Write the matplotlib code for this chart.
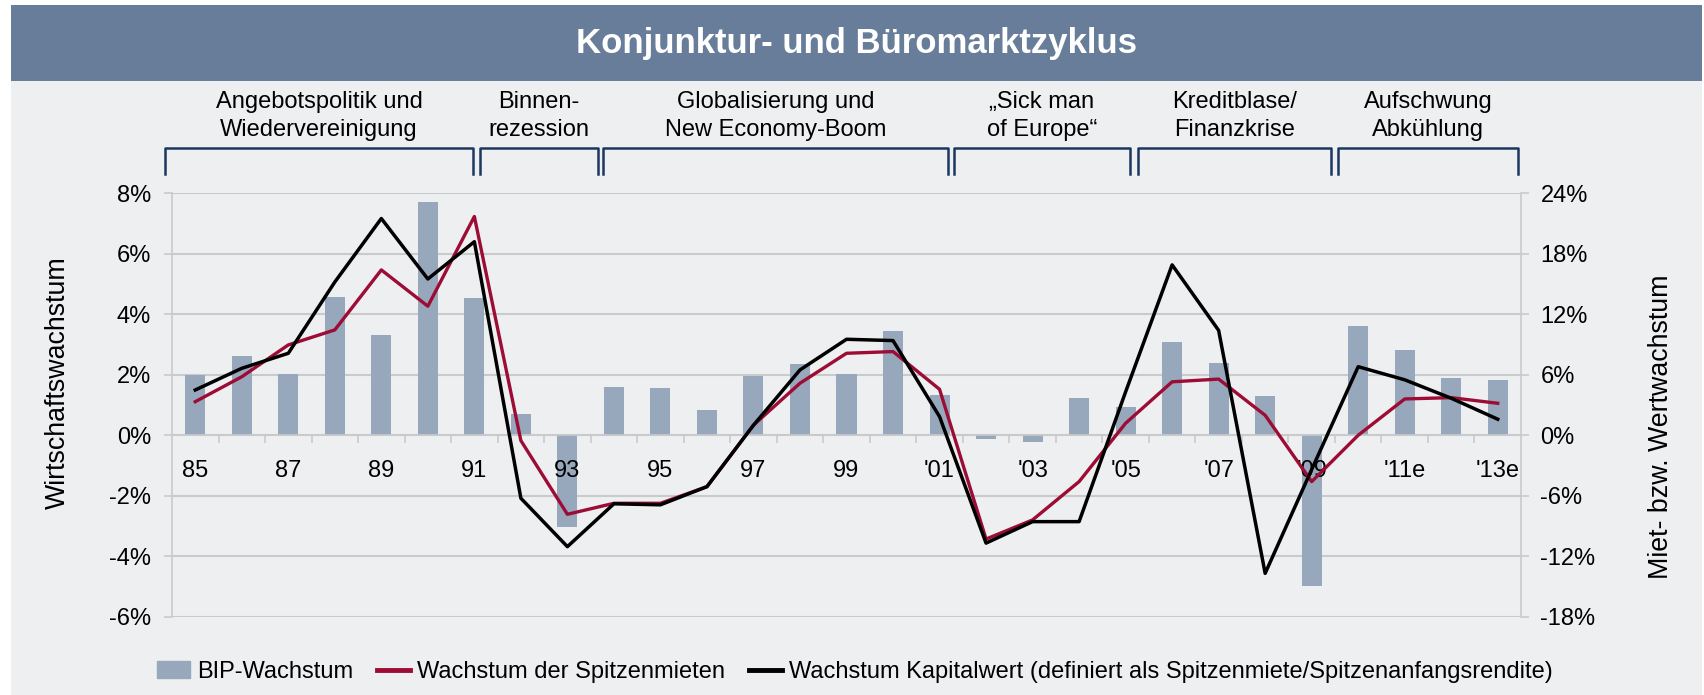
import numpy as np
import matplotlib
matplotlib.use("Agg")
import matplotlib.pyplot as plt
from matplotlib.patches import Rectangle
from matplotlib.lines import Line2D
from matplotlib.ticker import FuncFormatter

plt.rcParams['font.family'] = ['Liberation Sans', 'DejaVu Sans']

# data
years = list(range(1985, 2014))
year_labels = ['85', '87', '89', '91', '93', '95', '97', '99', "'01", "'03",
               "'05", "'07", "'09", "'11e", "'13e"]
gdp = [2.0, 2.62, 2.03, 4.57, 3.32, 7.71, 4.54, 0.70, -3.02, 1.6,
       1.56, 0.84, 1.96, 2.36, 2.03, 3.45, 1.33, -0.11, -0.21, 1.23,
       0.93, 3.07, 2.38, 1.30, -5.0, 3.61, 2.82, 1.89, 1.83]
rent = [3.33, 5.8, 8.96, 10.45, 16.4, 12.8, 21.7, -0.53, -7.84, -6.75,
        -6.75, -5.1, 1.0, 5.16, 8.13, 8.3, 4.56, -10.3, -8.4, -4.6,
        1.19, 5.3, 5.57, 1.98, -4.6, 0.0, 3.6, 3.73, 3.17]
capital = [4.49, 6.64, 8.13, 15.2, 21.5, 15.5, 19.2, -6.25, -11.05, -6.8,
           -6.9, -5.1, 1.0, 6.48, 9.52, 9.39, 1.85, -10.7, -8.57, -8.57,
           4.3, 16.9, 10.4, -13.7, -3.4, 6.8, 5.5, 3.67, 1.59]

phases = ['Angebotspolitik und\nWiedervereinigung', 'Binnen-\nrezession',
          'Globalisierung und\nNew Economy-Boom', '\u201eSick man\nof Europe\u201c',
          'Kreditblase/\nFinanzkrise', 'Aufschwung\nAbk\u00fchlung']
# bracket spans in pixels of the 1704 px wide figure
phase_spans = [(165, 473), (480, 598), (603, 948), (954, 1130), (1138, 1331), (1338, 1518)]

W, H = 1704, 695
bar_col = '#98A8BC'
red = '#9C0C35'
grid_col = '#C9CACC'
panel = '#EEEFF1'
fs = 17

fig = plt.figure(figsize=(W / 100, H / 100), dpi=100, facecolor='white')
fig.patches.append(Rectangle((11 / W, 0), 1691 / W, 1 - 81 / H, transform=fig.transFigure,
                             facecolor=panel, edgecolor='none', zorder=-10))
fig.patches.append(Rectangle((11 / W, 1 - 81 / H), 1691 / W, 76 / H, transform=fig.transFigure,
                             facecolor='#687D9A', edgecolor='none', zorder=-10))
fig.text(856 / W, 1 - 43 / H, 'Konjunktur- und B\u00fcromarktzyklus', color='white',
         fontsize=25, fontweight='bold', ha='center', va='center')

ax = fig.add_axes([172 / W, 78.3 / H, 1349 / W, 423.4 / H])
ax.set_facecolor('none')
x = np.arange(len(years))
ax.bar(x, gdp, width=0.43, color=bar_col, zorder=2, label='BIP-Wachstum')
ax.set_xlim(-0.5, len(years) - 0.5)
ax.set_ylim(-6, 8)
ax.set_yticks(np.arange(-6, 9, 2))
ax.yaxis.set_major_formatter(FuncFormatter(lambda v, p: '%d%%' % v))
ax.grid(axis='y', color=grid_col, linewidth=1.5)
ax.yaxis.set_zorder(0.5)
ax.xaxis.set_zorder(3)

ax.spines['top'].set_visible(False)
ax.spines['bottom'].set_position(('data', 0))
for s in ['left', 'right', 'bottom']:
    ax.spines[s].set_color(grid_col)
    ax.spines[s].set_linewidth(1.2)

ax.set_xticks(np.arange(0.5, len(years) - 1, 1))
ax.set_xticklabels([])
ax.set_xticks(np.arange(0, len(years), 2), year_labels, minor=True)
ax.tick_params(axis='x', which='major', length=6, width=1.2, color=grid_col, direction='out')
ax.tick_params(axis='x', which='minor', length=0, pad=18, labelsize=fs)
ax.tick_params(axis='y', length=6, width=1.2, color=grid_col, pad=9, labelsize=fs)

ax2 = ax.twinx()
ax2.plot(x, rent, color=red, linewidth=2.4, zorder=3)
ax2.plot(x, capital, color='black', linewidth=2.5, zorder=4)
ax2.set_ylim(-18, 24)
ax2.set_yticks(np.arange(-18, 25, 6))
ax2.yaxis.set_major_formatter(FuncFormatter(lambda v, p: '%d%%' % v))
ax2.tick_params(axis='y', length=6, width=1.2, color=grid_col, pad=8, labelsize=fs)
for s in ax2.spines.values():
    s.set_visible(False)

fig.text(58 / W, 1 - 383 / H, 'Wirtschaftswachstum', rotation=90, fontsize=19.3,
         ha='center', va='center')
fig.text(1661 / W, 1 - 427 / H, 'Miet- bzw. Wertwachstum', rotation=90, fontsize=19.3,
         ha='center', va='center')

# phase brackets and labels
y_top, y_bot = 1 - 148 / H, 1 - 174 / H
for (a, b), name in zip(phase_spans, phases):
    fig.add_artist(Line2D([a / W, a / W, b / W, b / W], [y_bot, y_top, y_top, y_bot],
                          transform=fig.transFigure, color='#1C3660', linewidth=1.8))
    fig.text((a + b) / 2 / W, 1 - 116 / H, name, fontsize=fs, ha='center', va='center',
             linespacing=1.4)

handles = [Rectangle((0, 0), 1, 1, color=bar_col),
           Line2D([], [], color=red, linewidth=3.5),
           Line2D([], [], color='black', linewidth=3.5)]
labels = ['BIP-Wachstum', 'Wachstum der Spitzenmieten',
          'Wachstum Kapitalwert (definiert als Spitzenmiete/Spitzenanfangsrendite)']
fig.legend(handles, labels, loc='center', bbox_to_anchor=(855 / W, 23 / H), ncol=3,
           frameon=False, fontsize=fs, handlelength=1.4, handletextpad=0.3,
           columnspacing=1.0)

fig.savefig('out.png', dpi=100, facecolor='white')
